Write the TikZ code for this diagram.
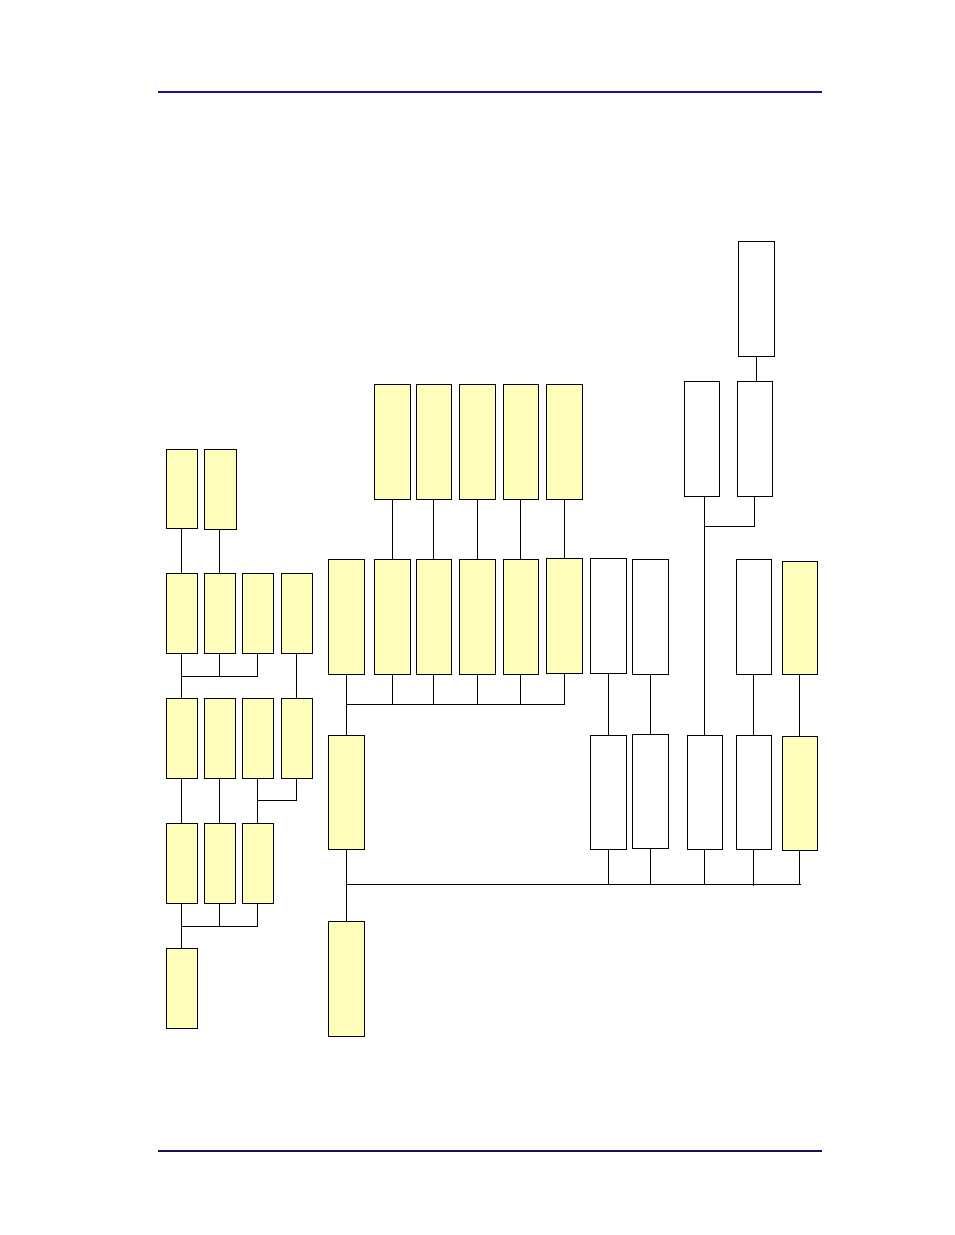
\documentclass[tikz,border=0pt]{standalone}
\definecolor{boxyellow}{HTML}{FFFFBB}
\definecolor{topblue}{HTML}{2A0A8C}
\definecolor{botblue}{HTML}{1E1050}
\begin{document}
\begin{tikzpicture}[x=0.6414pt, y=-0.6414pt,
  bx/.style={draw, inner sep=0pt, outer sep=0pt, line width=0.6pt, anchor=north west},
  ybox/.style={bx, fill=boxyellow},
  wbox/.style={bx, fill=white},
  sz/.style 2 args={minimum width=#1*0.6414pt, minimum height=#2*0.6414pt},
  conn/.style={line width=0.6pt, black}]
\useasboundingbox (0,0) rectangle (954,1235);
% header / footer rules
\coordinate (tl) at (158,92); \coordinate (tr) at (822,92);
\coordinate (bl) at (158,1151); \coordinate (br) at (822,1151);
\draw[topblue, line width=0.9pt] (tl) -- (tr);
\draw[botblue, line width=0.9pt] (bl) -- (br);
% bus levels
\coordinate (busB) at (0,676);
\coordinate (busC) at (0,800);
\coordinate (busD) at (0,926);
\coordinate (busN) at (0,704);
\coordinate (busM) at (0,884);
\coordinate (busT) at (0,526);
\coordinate (busEnd) at (801,884);
% ---------- left cluster ----------
\node[ybox, sz={31}{79}] (A1) at (166,449) {};
\node[ybox, sz={32}{80}] (A2) at (204,449) {};
\node[ybox, sz={31}{80}] (B1) at (166,573) {};
\node[ybox, sz={31}{80}] (B2) at (204,573) {};
\node[ybox, sz={31}{80}] (B3) at (242,573) {};
\node[ybox, sz={31}{80}] (B4) at (281,573) {};
\node[ybox, sz={31}{80}] (C1) at (166,698) {};
\node[ybox, sz={31}{80}] (C2) at (204,698) {};
\node[ybox, sz={31}{80}] (C3) at (242,698) {};
\node[ybox, sz={31}{80}] (C4) at (281,698) {};
\node[ybox, sz={31}{80}] (D1) at (166,823) {};
\node[ybox, sz={31}{80}] (D2) at (204,823) {};
\node[ybox, sz={31}{80}] (D3) at (242,823) {};
\node[ybox, sz={31}{80}] (E1) at (166,948) {};
\draw[conn] (A1.south) -- (B1.north);
\draw[conn] (B2.north) -- (B2.north |- A2.south);
\draw[conn] (B1.south) -- (C1.north);
\draw[conn] (B3.south) -- (B3.south |- busB) -- (B1.south |- busB);
\draw[conn] (B2.south) -- (B2.south |- busB);
\draw[conn] (B4.south) -- (C4.north);
\draw[conn] (C1.south) -- (D1.north);
\draw[conn] (C2.south) -- (D2.north);
\draw[conn] (C4.south) -- (C4.south |- busC) -- (C3.south |- busC);
\draw[conn] (C3.south) -- (D3.north);
\draw[conn] (D1.south) -- (E1.north);
\draw[conn] (D3.south) -- (D3.south |- busD) -- (D1.south |- busD);
\draw[conn] (D2.south) -- (D2.south |- busD);
% ---------- middle cluster ----------
\node[ybox, sz={36}{115}] (M1) at (374,384) {};
\node[ybox, sz={35}{115}] (M2) at (416,384) {};
\node[ybox, sz={36}{115}] (M3) at (459,384) {};
\node[ybox, sz={35}{115}] (M4) at (503,384) {};
\node[ybox, sz={36}{115}] (M5) at (546,384) {};
\node[ybox, sz={36}{115}] (N0) at (328,559) {};
\node[ybox, sz={36}{115}] (N1) at (374,559) {};
\node[ybox, sz={35}{115}] (N2) at (416,559) {};
\node[ybox, sz={36}{115}] (N3) at (459,559) {};
\node[ybox, sz={35}{115}] (N4) at (503,559) {};
\node[ybox, sz={36}{115}] (N5) at (546,558) {};
\node[ybox, sz={36}{114}] (P) at (328,735) {};
\node[ybox, sz={36}{115}] (Q) at (328,921) {};
\foreach \i in {1,...,5} {\draw[conn] (M\i.south) -- (N\i.north);}
\draw[conn] (N0.south) -- (P.north);
\draw[conn] (N5.south) -- (N5.south |- busN) -- (N0.south |- busN);
\foreach \i in {1,...,4} {\draw[conn] (N\i.south) -- (N\i.south |- busN);}
\draw[conn] (P.south) -- (Q.north);
\draw[conn] (P.south |- busM) -- (busEnd);
% ---------- right cluster ----------
\node[wbox, sz={36}{115}] (R1) at (590,558) {};
\node[wbox, sz={36}{115}] (R2) at (632,559) {};
\node[wbox, sz={36}{114}] (S1) at (590,735) {};
\node[wbox, sz={36}{114}] (S2) at (632,734) {};
\draw[conn] (R1.south) -- (S1.north);
\draw[conn] (R2.south) -- (S2.north);
\draw[conn] (S1.south) -- (S1.south |- busM);
\draw[conn] (S2.south) -- (S2.south |- busM);
\node[wbox, sz={36}{115}] (U) at (738,241) {};
\node[wbox, sz={35}{115}] (T1) at (684,381) {};
\node[wbox, sz={35}{115}] (T2) at (737,381) {};
\node[wbox, sz={35}{114}] (V1) at (687,735) {};
\draw[conn] (U.south) -- (U.south |- T2.north);
\draw[conn] (V1.north) -- (V1.north |- T1.south);
\draw[conn] (T2.south) -- (T2.south |- busT) -- (V1.north |- busT);
\draw[conn] (V1.south) -- (V1.south |- busM);
\node[wbox, sz={35}{115}] (W1) at (736,559) {};
\node[wbox, sz={35}{114}] (W2) at (736,735) {};
\draw[conn] (W1.south) -- (W2.north);
\draw[conn] (W2.south) -- ([yshift=-1.2pt]W2.south |- busM);
\node[ybox, sz={35}{113}] (Y1) at (782,561) {};
\node[ybox, sz={35}{114}] (Y2) at (782,736) {};
\draw[conn] (Y1.south) -- (Y2.north);
\draw[conn] (Y2.south) -- (Y2.south |- busM);
\end{tikzpicture}
\end{document}
